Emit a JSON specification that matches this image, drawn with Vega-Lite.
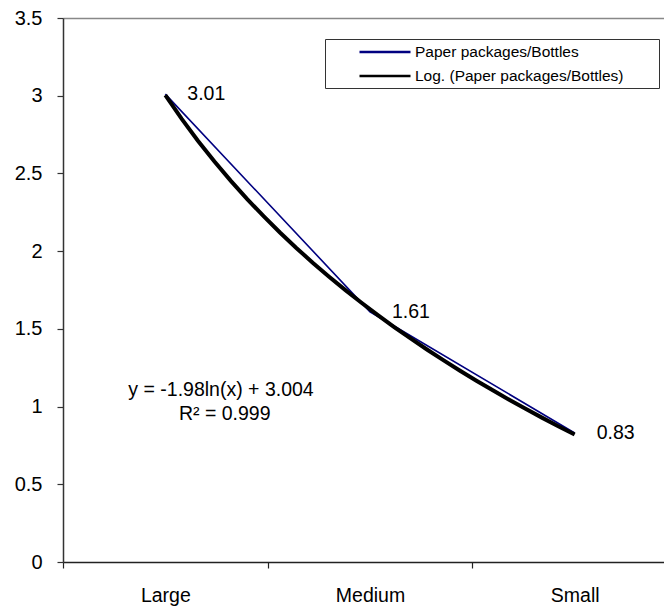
{
  "$schema": "https://vega.github.io/schema/vega-lite/v6.json",
  "width": 601,
  "height": 544,
  "autosize": "none",
  "padding": {"left": 63, "top": 18, "right": 0, "bottom": 47},
  "background": "white",
  "config": {"view": {"stroke": null}, "font": "Liberation Sans"},
  "data": {"values": [
    {"size": "Large", "idx": 1, "value": 3.01},
    {"size": "Medium", "idx": 2, "value": 1.61},
    {"size": "Small", "idx": 3, "value": 0.83}
  ]},
  "encoding": {
    "y": {
      "field": "value", "type": "quantitative",
      "scale": {"domain": [0, 3.5]},
      "axis": {"values": [0, 0.5, 1, 1.5, 2, 2.5, 3, 3.5], "format": "~g", "title": null, "grid": false,
        "labelFontSize": 20, "labelColor": "#000", "labelPadding": 15, "tickSize": 6,
        "domainColor": "#333", "tickColor": "#333", "domainWidth": 1.5, "tickWidth": 1.2}
    }
  },
  "layer": [
    {
      "encoding": {
        "x": {
          "field": "size", "type": "nominal", "sort": ["Large", "Medium", "Small"],
          "scale": {"type": "band", "paddingInner": 0, "paddingOuter": 0, "range": [0, 614]},
          "axis": {"tickBand": "extent", "title": null, "labelAngle": 0, "labelFontSize": 19.5, "labelColor": "#000",
            "labelPadding": 18, "tickSize": 6, "domainColor": "#222", "tickColor": "#222", "domainWidth": 1.5, "tickWidth": 1.2}
        }
      },
      "layer": [
        {
          "mark": {"type": "line", "strokeWidth": 1.6},
          "encoding": {
            "color": {
              "datum": "Paper packages/Bottles", "type": "nominal",
              "scale": {"domain": ["Paper packages/Bottles", "Log. (Paper packages/Bottles)"], "range": ["#000080", "#000000"]},
              "legend": {"orient": "none", "legendX": 262, "legendY": 21, "title": null,
                "labelFontSize": 15.5, "labelColor": "#000", "labelLimit": 400, "padding": 3, "strokeColor": "#333", "fillColor": "#fff",
                "symbolType": "M-3,0H3M31.2,0H31.2", "symbolSize": 289, "symbolStrokeWidth": 2.5, "symbolOffset": 47,
                "labelOffset": 20, "rowPadding": 5}
            }
          }
        },
        {
          "mark": {"type": "text", "align": "left", "baseline": "middle", "dx": 22, "fontSize": 19.5, "color": "#000"},
          "encoding": {"text": {"field": "value", "type": "quantitative", "format": ".2f"}}
        }
      ]
    },
    {
      "transform": [{"regression": "value", "on": "idx", "method": "log"}],
      "mark": {"type": "line", "strokeWidth": 4},
      "encoding": {
        "x": {
          "field": "idx", "type": "quantitative",
          "scale": {"domain": [0.5, 3.5], "range": [0, 614], "nice": false, "zero": false},
          "axis": {"orient": "top", "labels": false, "ticks": false, "title": null, "grid": false,
            "domainColor": "#888", "domainWidth": 1.5}
        },
        "color": {"datum": "Log. (Paper packages/Bottles)", "type": "nominal"}
      }
    },
    {
      "transform": [{"filter": "datum.size == 'Large'"}],
      "mark": {"type": "text", "align": "center", "baseline": "alphabetic", "fontSize": 19.5, "color": "#000"},
      "encoding": {
        "x": {"datum": 1.272, "type": "quantitative", "scale": {"domain": [0.5, 3.5], "range": [0, 614], "nice": false, "zero": false}, "axis": null},
        "y": {"datum": 1.066, "type": "quantitative"},
        "text": {"value": "y = -1.98ln(x) + 3.004"}
      }
    },
    {
      "transform": [{"filter": "datum.size == 'Large'"}],
      "mark": {"type": "text", "align": "center", "baseline": "alphabetic", "fontSize": 19.5, "color": "#000"},
      "encoding": {
        "x": {"datum": 1.29, "type": "quantitative", "scale": {"domain": [0.5, 3.5], "range": [0, 614], "nice": false, "zero": false}, "axis": null},
        "y": {"datum": 0.912, "type": "quantitative"},
        "text": {"value": "R² = 0.999"}
      }
    }
  ],
  "resolve": {"scale": {"x": "independent"}}
}
